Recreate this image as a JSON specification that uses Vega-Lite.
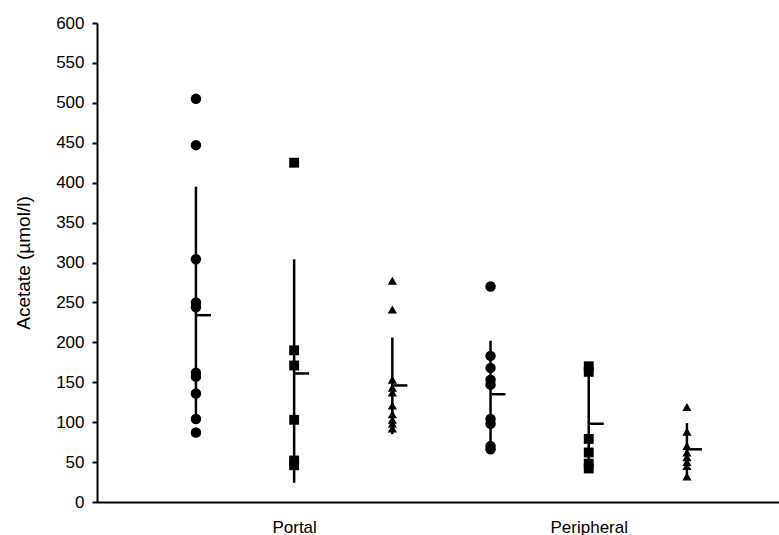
{
  "$schema": "https://vega.github.io/schema/vega-lite/v6.json",
  "width": 682,
  "height": 479,
  "autosize": {"type": "none"},
  "padding": {"left": 97, "top": 23, "right": 0, "bottom": 33},
  "background": "white",
  "config": {
    "view": {"stroke": null},
    "font": "Liberation Sans",
    "axis": {"grid": false, "domainColor": "black", "domainWidth": 2, "tickColor": "black", "tickWidth": 2, "labelColor": "black", "titleColor": "black", "labelFont": "Liberation Sans", "titleFont": "Liberation Sans", "labelFontSize": 17, "titleFontSize": 19, "titleFontWeight": "normal"}
  },
  "datasets": {
    "points": [
      {"marker": "circle", "group": "Portal circle", "value": 505},
      {"marker": "circle", "group": "Portal circle", "value": 447},
      {"marker": "circle", "group": "Portal circle", "value": 304},
      {"marker": "circle", "group": "Portal circle", "value": 250},
      {"marker": "circle", "group": "Portal circle", "value": 244},
      {"marker": "circle", "group": "Portal circle", "value": 162},
      {"marker": "circle", "group": "Portal circle", "value": 157},
      {"marker": "circle", "group": "Portal circle", "value": 136},
      {"marker": "circle", "group": "Portal circle", "value": 104},
      {"marker": "circle", "group": "Portal circle", "value": 87},
      {"marker": "square", "group": "Portal square", "value": 425},
      {"marker": "square", "group": "Portal square", "value": 190},
      {"marker": "square", "group": "Portal square", "value": 171},
      {"marker": "square", "group": "Portal square", "value": 103},
      {"marker": "square", "group": "Portal square", "value": 52},
      {"marker": "square", "group": "Portal square", "value": 46},
      {"marker": "triangle", "group": "Portal triangle", "value": 277},
      {"marker": "triangle", "group": "Portal triangle", "value": 241},
      {"marker": "triangle", "group": "Portal triangle", "value": 153},
      {"marker": "triangle", "group": "Portal triangle", "value": 143},
      {"marker": "triangle", "group": "Portal triangle", "value": 137},
      {"marker": "triangle", "group": "Portal triangle", "value": 121},
      {"marker": "triangle", "group": "Portal triangle", "value": 110},
      {"marker": "triangle", "group": "Portal triangle", "value": 103},
      {"marker": "triangle", "group": "Portal triangle", "value": 98},
      {"marker": "triangle", "group": "Portal triangle", "value": 92},
      {"marker": "circle", "group": "Peripheral circle", "value": 270},
      {"marker": "circle", "group": "Peripheral circle", "value": 183},
      {"marker": "circle", "group": "Peripheral circle", "value": 168},
      {"marker": "circle", "group": "Peripheral circle", "value": 153},
      {"marker": "circle", "group": "Peripheral circle", "value": 147},
      {"marker": "circle", "group": "Peripheral circle", "value": 104},
      {"marker": "circle", "group": "Peripheral circle", "value": 98},
      {"marker": "circle", "group": "Peripheral circle", "value": 70},
      {"marker": "circle", "group": "Peripheral circle", "value": 66},
      {"marker": "square", "group": "Peripheral square", "value": 170},
      {"marker": "square", "group": "Peripheral square", "value": 163},
      {"marker": "square", "group": "Peripheral square", "value": 79},
      {"marker": "square", "group": "Peripheral square", "value": 62},
      {"marker": "square", "group": "Peripheral square", "value": 48},
      {"marker": "square", "group": "Peripheral square", "value": 42},
      {"marker": "triangle", "group": "Peripheral triangle", "value": 119},
      {"marker": "triangle", "group": "Peripheral triangle", "value": 88},
      {"marker": "triangle", "group": "Peripheral triangle", "value": 70},
      {"marker": "triangle", "group": "Peripheral triangle", "value": 62},
      {"marker": "triangle", "group": "Peripheral triangle", "value": 56},
      {"marker": "triangle", "group": "Peripheral triangle", "value": 50},
      {"marker": "triangle", "group": "Peripheral triangle", "value": 45},
      {"marker": "triangle", "group": "Peripheral triangle", "value": 32}
    ],
    "summary": [
      {"group": "Portal circle", "mean": 234, "lo": 104, "hi": 395},
      {"group": "Portal square", "mean": 161, "lo": 24, "hi": 304},
      {"group": "Portal triangle", "mean": 146, "lo": 85, "hi": 206},
      {"group": "Peripheral circle", "mean": 135, "lo": 68, "hi": 202},
      {"group": "Peripheral square", "mean": 98, "lo": 42, "hi": 168},
      {"group": "Peripheral triangle", "mean": 66, "lo": 33, "hi": 99}
    ]
  },
  "encoding": {
    "x": {
      "field": "group",
      "type": "nominal",
      "scale": {
        "type": "point",
        "domain": ["Portal circle", "Portal square", "Portal triangle", "Peripheral circle", "Peripheral square", "Peripheral triangle"],
        "padding": 0.9725,
        "align": 0.518
      },
      "axis": {
        "title": null,
        "ticks": false,
        "tickSize": 0,
        "labelAngle": 0,
        "labelPadding": 17,
        "labelExpr": "datum.value == 'Portal square' ? 'Portal' : (datum.value == 'Peripheral square' ? 'Peripheral' : '')"
      }
    }
  },
  "layer": [
    {
      "data": {"name": "points"},
      "mark": {"type": "point", "filled": true, "color": "black", "opacity": 1},
      "encoding": {
        "y": {"field": "value", "type": "quantitative", "scale": {"domain": [0, 600], "nice": false, "zero": true},
          "axis": {"title": "Acetate (µmol/l)", "values": [0, 50, 100, 150, 200, 250, 300, 350, 400, 450, 500, 550, 600], "tickCount": 20, "labelOverlap": false, "labelSeparation": 0, "labelFontSize": 17, "tickSize": 5, "labelPadding": 8, "titlePadding": 22}},
        "shape": {"field": "marker", "type": "nominal", "scale": {"domain": ["circle", "square", "triangle"], "range": ["circle", "square", "triangle-up"]}, "legend": null},
        "size": {"field": "marker", "type": "nominal", "scale": {"domain": ["circle", "square", "triangle"], "range": [110, 85, 150]}, "legend": null}
      }
    },
    {
      "data": {"name": "summary"},
      "mark": {"type": "rule", "color": "black", "strokeWidth": 2.5},
      "encoding": {
        "y": {"field": "lo", "type": "quantitative"},
        "y2": {"field": "hi"}
      }
    },
    {
      "data": {"name": "summary"},
      "mark": {"type": "tick", "orient": "horizontal", "color": "black", "size": 14, "thickness": 2.5, "xOffset": 8, "opacity": 1},
      "encoding": {
        "y": {"field": "mean", "type": "quantitative"}
      }
    }
  ]
}
